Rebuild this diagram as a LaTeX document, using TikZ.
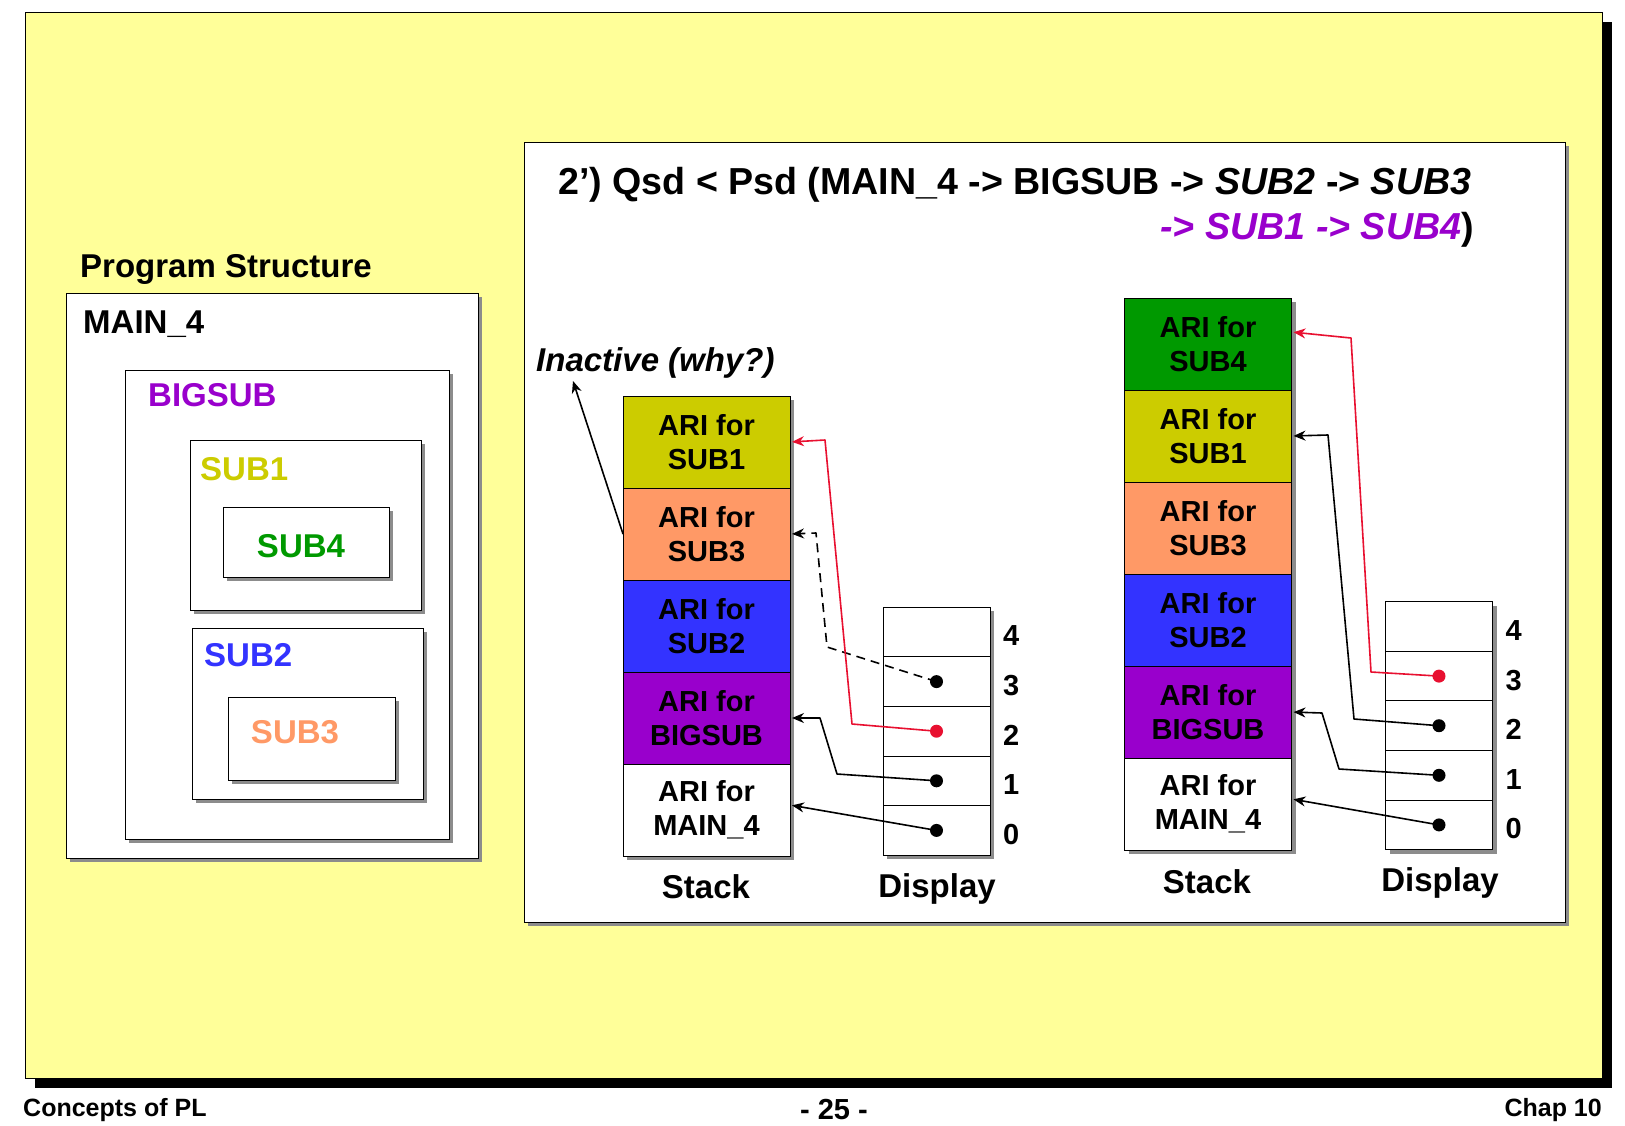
\documentclass[tikz,border=0pt]{standalone}
\usepackage{fontspec}
\setmainfont{Liberation Sans}
\usepackage{tikz}
\usetikzlibrary{arrows.meta,positioning,shadows,calc}
\definecolor{bgyellow}{RGB}{255,255,153}
\definecolor{arisub1}{RGB}{204,204,0}
\definecolor{arisub3}{RGB}{255,153,102}
\definecolor{arisub2}{RGB}{51,51,255}
\definecolor{aribig}{RGB}{153,0,204}
\definecolor{arisub4}{RGB}{0,153,0}
\definecolor{linkred}{RGB}{232,16,48}
\definecolor{shadegray}{RGB}{140,140,140}
\tikzstyle{slide} = [draw=black, line width=0.8pt, fill=bgyellow, drop shadow={shadow xshift=10pt, shadow yshift=-10pt, fill=black, opacity=1}]
\tikzstyle{panel} = [draw=black, line width=1pt, fill=white, drop shadow={shadow xshift=4pt, shadow yshift=-4pt, fill=shadegray, opacity=1}]
\tikzstyle{ari} = [panel, minimum width=167pt, minimum height=92pt, inner sep=0pt, outer sep=0pt, align=center, font=\fontsize{29}{34}\selectfont\bfseries]
\tikzstyle{slot} = [panel, minimum width=107pt, minimum height=49.6pt, inner sep=0pt, outer sep=0pt]
\tikzstyle{dot} = [circle, fill=black, inner sep=0pt, minimum size=13pt]
\tikzstyle{lbl} = [inner sep=0pt, font=\fontsize{33}{38}\selectfont\bfseries]
\tikzstyle{num} = [inner sep=0pt, yshift=-4pt, font=\fontsize{29}{34}\selectfont\bfseries]
\tikzstyle{title} = [inner sep=0pt, font=\fontsize{37.6}{42}\selectfont\bfseries]
\tikzstyle{foot} = [inner sep=0pt, font=\fontsize{25}{28}\selectfont\bfseries]
\tikzstyle{link} = [line width=1.6pt, line join=round, -{Stealth[length=12pt,width=10pt]}, shorten >=2pt]

\begin{document}
\begin{tikzpicture}[x=1pt, y=-1pt]
    \fill[white] (0,0) rectangle (1625,1125);
    \useasboundingbox (0,0) rectangle (1625,1125);

    % Slide
    \draw[slide] (25,12) rectangle (1602,1078);
    \node[foot, anchor=base west] (concepts) at (23,1116) {Concepts of PL};
    \node[foot, anchor=base, font=\fontsize{29}{32}\selectfont\bfseries] (page) at (834,1119) {- 25 -};
    \node[foot, anchor=base east] (chap) at (1602,1116) {Chap 10};

    % Program structure
    \node[lbl, anchor=west] (pstitle) at (80,269) {Program Structure};
    \draw[panel] (66,293) rectangle (478,858);
    \node[lbl, anchor=west] (pmain) at (83,324) {MAIN\_4};
    \draw[panel] (125,370) rectangle (449,839);
    \node[lbl, anchor=west, text=aribig] (pbig) at (148,395) {BIGSUB};
    \draw[panel] (190,440) rectangle (421,610);
    \node[lbl, anchor=west, text=arisub1] (psub1) at (200,469) {SUB1};
    \draw[panel] (223,507) rectangle (389,577);
    \node[lbl, text=arisub4] (psub4) at (301,546) {SUB4};
    \draw[panel] (192,628) rectangle (423,799);
    \node[lbl, anchor=west, text=arisub2] (psub2) at (204,655) {SUB2};
    \draw[panel] (228,697) rectangle (395,780);
    \node[lbl, text=arisub3] (psub3) at (295,732) {SUB3};

    % Right panel and title
    \draw[panel] (524,142) rectangle (1565,922);
    \node[title, anchor=base west] (title1) at (558,194) {2’) Qsd < Psd (MAIN\_4 -> BIGSUB -> \textit{SUB2} -> \textit{SUB3}};
    \node[title, anchor=base east] (title2) at (1474,239) {\textcolor{aribig}{\textit{-> SUB1 -> SUB4}})};

    % Left stack
    \node[ari, fill=arisub1] (lsub1) at (706.5,442) {ARI for\\SUB1};
    \node[ari, fill=arisub3, below=0pt of lsub1] (lsub3) {ARI for\\SUB3};
    \node[ari, fill=arisub2, below=0pt of lsub3] (lsub2) {ARI for\\SUB2};
    \node[ari, fill=aribig, below=0pt of lsub2] (lbig) {ARI for\\BIGSUB};
    \node[ari, fill=white, below=0pt of lbig] (lmain) {ARI for\\MAIN\_4};
    \node[lbl] (lstack) at (706,887) {Stack};

    % Left display
    \node[slot] (lsl4) at (936.5,632) {};
    \node[slot, below=0pt of lsl4] (lsl3) {};
    \node[slot, below=0pt of lsl3] (lsl2) {};
    \node[slot, below=0pt of lsl2] (lsl1) {};
    \node[slot, below=0pt of lsl1] (lsl0) {};
    \foreach \i in {0,...,4}
        \node[num, right=13pt of lsl\i] (ln\i) {\i};
    \node[lbl] (ldisp) at (937,889) {Display};
    \node[dot] (ld3) at (lsl3) {};
    \node[dot, fill=linkred] (ld2) at (lsl2) {};
    \node[dot] (ld1) at (lsl1) {};
    \node[dot] (ld0) at (lsl0) {};

    % Left links
    \draw[link, dash pattern=on 9pt off 6pt] (ld3.center) -- (827,647) -- (816,533) -- (lsub3.east);
    \draw[link, linkred] (ld2.center) -- (852,724) -- (825,440) -- (lsub1.east);
    \draw[link] (ld1.center) -- (837,774) -- (820,718) -- (lbig.east);
    \draw[link] (ld0.center) -- ($(lmain.east)+(0,-5)$);

    % Inactive note
    \node[lbl, anchor=west, font=\fontsize{33}{38}\selectfont\bfseries\itshape] (inact) at (536,363) {Inactive (why?)};
    \coordinate (inacttip) at (573,381);
    \draw[link, shorten >=0pt] (lsub3.west) -- (inacttip);

    % Right stack
    \node[ari, fill=arisub4] (rsub4) at (1208,344) {ARI for\\SUB4};
    \node[ari, fill=arisub1, below=0pt of rsub4] (rsub1) {ARI for\\SUB1};
    \node[ari, fill=arisub3, below=0pt of rsub1] (rsub3) {ARI for\\SUB3};
    \node[ari, fill=arisub2, below=0pt of rsub3] (rsub2) {ARI for\\SUB2};
    \node[ari, fill=aribig, below=0pt of rsub2] (rbig) {ARI for\\BIGSUB};
    \node[ari, fill=white, below=0pt of rbig] (rmain) {ARI for\\MAIN\_4};
    \node[lbl] (rstack) at (1207,882) {Stack};

    % Right display
    \node[slot] (rsl4) at (1439,626.5) {};
    \node[slot, below=0pt of rsl4] (rsl3) {};
    \node[slot, below=0pt of rsl3] (rsl2) {};
    \node[slot, below=0pt of rsl2] (rsl1) {};
    \node[slot, below=0pt of rsl1] (rsl0) {};
    \foreach \i in {0,...,4}
        \node[num, right=13pt of rsl\i] (rn\i) {\i};
    \node[lbl] (rdisp) at (1440,883) {Display};
    \node[dot, fill=linkred] (rd3) at (rsl3) {};
    \node[dot] (rd2) at (rsl2) {};
    \node[dot] (rd1) at (rsl1) {};
    \node[dot] (rd0) at (rsl0) {};

    % Right links
    \draw[link, linkred] (rd3.center) -- (1371,672) -- (1351,338) -- ($(rsub4.east)+(0,-12)$);
    \draw[link] (rd2.center) -- (1354,719) -- (1328,435) -- (rsub1.east);
    \draw[link] (rd1.center) -- (1339,769) -- (1322,713) -- (rbig.east);
    \draw[link] (rd0.center) -- ($(rmain.east)+(0,-5)$);
\end{tikzpicture}
\end{document}
